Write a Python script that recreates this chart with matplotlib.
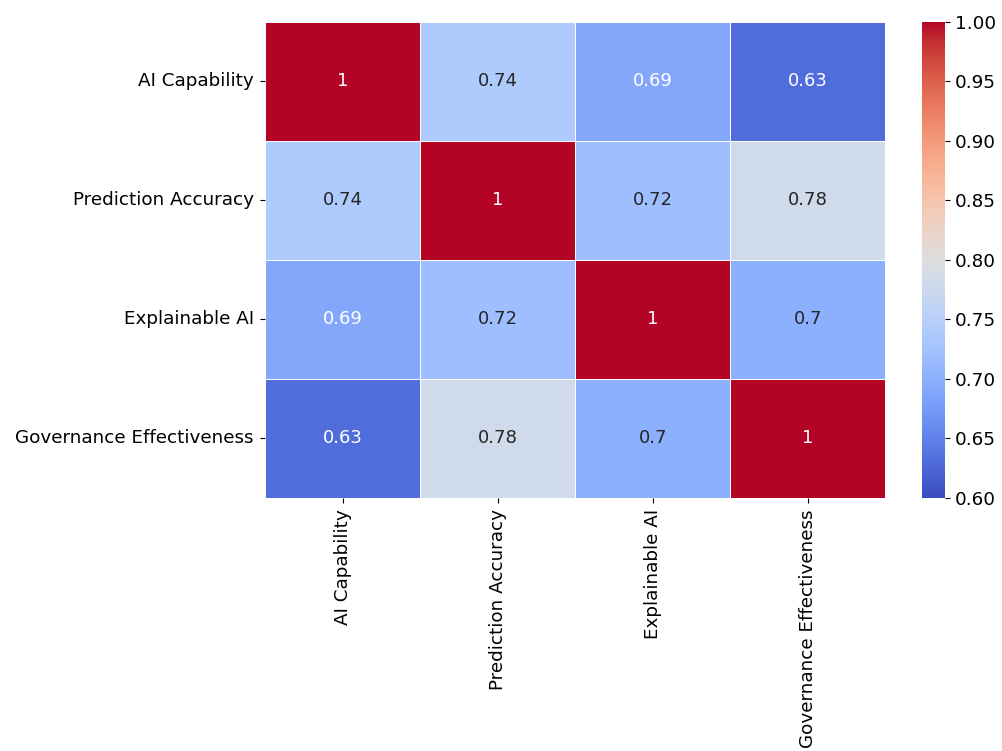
import numpy as np
import matplotlib
matplotlib.use("Agg")
import matplotlib.pyplot as plt
import seaborn as sns

# correlation matrix of the survey constructs
labels = ["AI Capability", "Prediction Accuracy", "Explainable AI", "Governance Effectiveness"]
ai_capability = [1.00, 0.74, 0.69, 0.63]
prediction_accuracy = [0.74, 1.00, 0.72, 0.78]
explainable_ai = [0.69, 0.72, 1.00, 0.70]
governance = [0.63, 0.78, 0.70, 1.00]

corr = np.array([ai_capability, prediction_accuracy, explainable_ai, governance])

plt.rcParams["font.size"] = 13.2

fig = plt.figure(figsize=(10.02, 7.51), dpi=100)
ax = fig.add_axes([0.2645, 0.337, 0.619, 0.634])
cax = fig.add_axes([0.920, 0.337, 0.023, 0.634])

sns.heatmap(corr, annot=True, cmap="coolwarm", vmin=0.6, vmax=1.0,
            linewidths=0.5, linecolor="white",
            xticklabels=labels, yticklabels=labels,
            ax=ax, cbar_ax=cax, annot_kws={"size": 13})
ax.set_xticklabels(labels, rotation=90)
ax.set_yticklabels(labels, rotation=0)
ax.tick_params(axis="both", pad=4.5)
cax.set_yticks([0.6, 0.65, 0.7, 0.75, 0.8, 0.85, 0.9, 0.95, 1.0])
cax.set_yticklabels(["0.60", "0.65", "0.70", "0.75", "0.80", "0.85", "0.90", "0.95", "1.00"])

fig.savefig("out.png", dpi=100)
